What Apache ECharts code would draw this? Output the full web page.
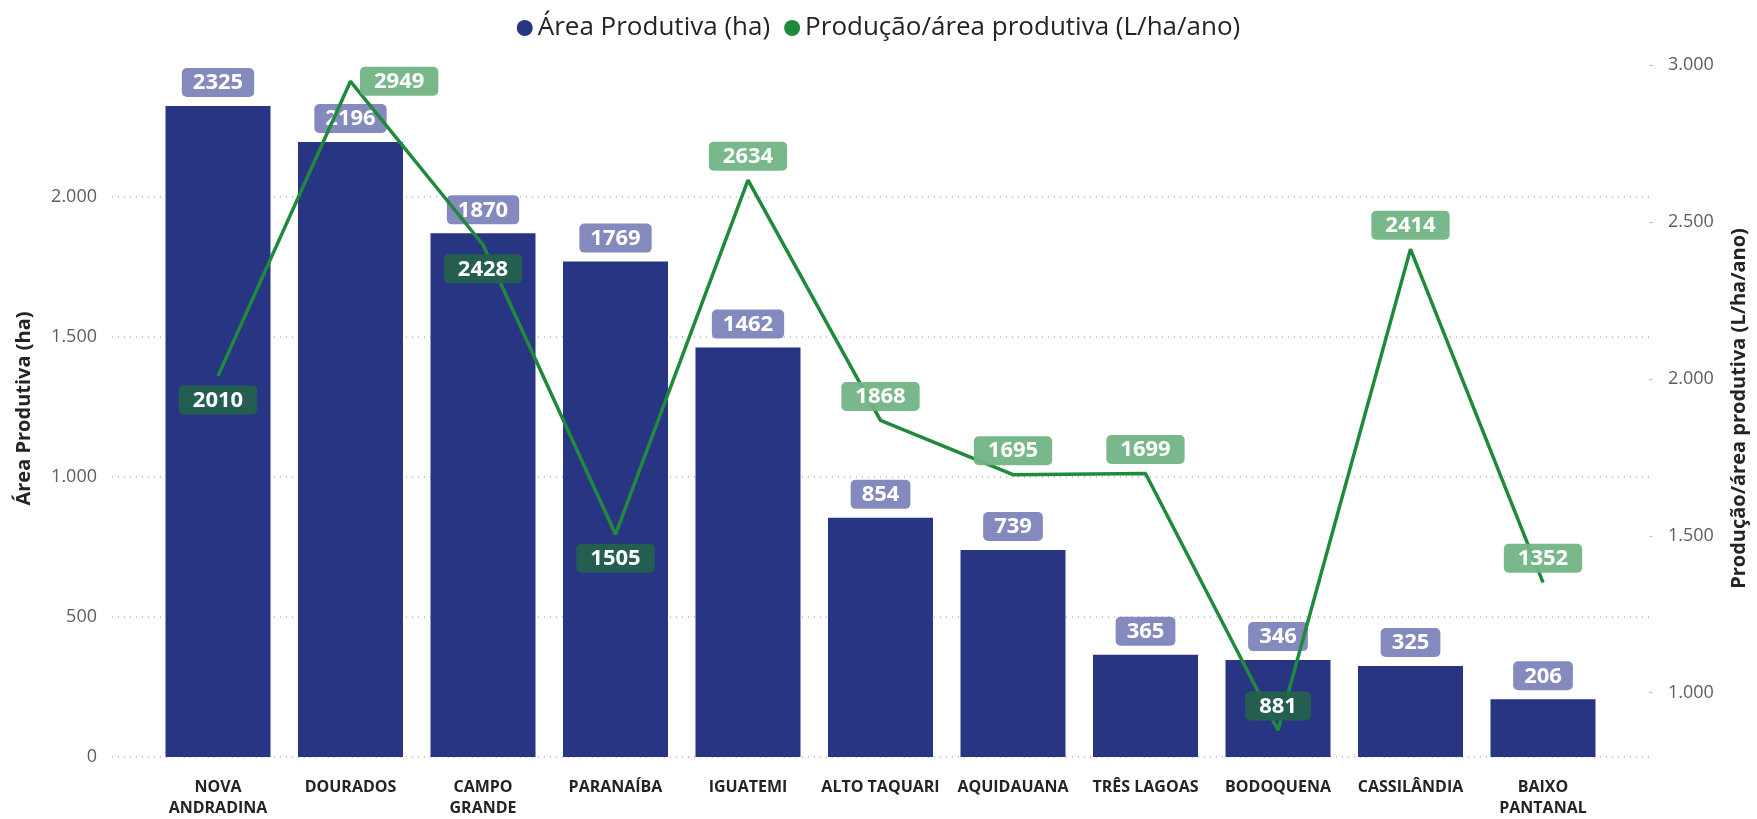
<!DOCTYPE html>
<html>
<head>
<meta charset="utf-8">
<script src="https://cdn.jsdelivr.net/npm/echarts@6.0.0/dist/echarts.min.js"></script>
<style>
  html, body { margin: 0; padding: 0; background: #fff; }
  #chart { width: 1757px; height: 819px; }
</style>
</head>
<body>
<div id="chart"></div>
<script>
const categories = ['NOVA\nANDRADINA', 'DOURADOS', 'CAMPO\nGRANDE', 'PARANAÍBA', 'IGUATEMI', 'ALTO TAQUARI', 'AQUIDAUANA', 'TRÊS LAGOAS', 'BODOQUENA', 'CASSILÂNDIA', 'BAIXO\nPANTANAL']
const areaProdutiva = [2325, 2196, 1870, 1769, 1462, 854, 739, 365, 346, 325, 206]
const producaoPorArea = [2010, 2949, 2428, 1505, 2634, 1868, 1695, 1699, 881, 2414, 1352]
const rightTicks = [1000, 1500, 2000, 2500, 3000]

// label placement for the line, and which labels sit over a bar (dark box)
const lineLabelPos = ['bottom', 'right', 'bottom', 'bottom', 'top', 'top', 'top', 'top', 'top', 'top', 'top']
const lineLabelOnBar = [true, false, true, true, false, false, false, false, true, false, false]

const FONT = '"Open Sans", "Noto Sans", sans-serif'
const BLUE = '#283583'
const GREEN = '#1f8a3c'

// 2000 -> 2.000
const fmt = v => String(v).replace(/\B(?=(\d{3})+(?!\d))/g, '.')

const chart = echarts.init(document.getElementById('chart'))

const option = {
  animation: false,
  textStyle: { fontFamily: FONT },
  legend: {
    top: 10,
    left: 'center',
    icon: 'circle',
    itemWidth: 16,
    itemHeight: 16,
    itemGap: 14,
    textStyle: { fontSize: 26, color: '#252423', fontFamily: FONT },
    data: ['Área Produtiva (ha)', 'Produção/área produtiva (L/ha/ano)'],
  },
  grid: {
    left: 112,
    right: 106,
    top: 60,
    bottom: 59,
  },
  xAxis: {
    type: 'value',
    min: -0.8,
    max: 10.8,
    axisLine: { show: false },
    axisTick: { show: false },
    splitLine: { show: false },
    axisLabel: {
      customValues: categories.map((c, i) => i),
      formatter: v => categories[Math.round(v)] || '',
      margin: 20,
      fontSize: 16,
      fontWeight: 'bold',
      lineHeight: 21,
      color: '#252423',
      fontFamily: FONT,
    },
  },
  yAxis: [
    {
      type: 'value',
      min: 0,
      max: 2489,
      interval: 500,
      name: 'Área Produtiva (ha)',
      nameLocation: 'middle',
      nameGap: 78,
      nameTextStyle: { fontSize: 20, fontWeight: 'bold', color: '#252423', fontFamily: FONT },
      axisLine: { show: false },
      axisTick: { show: false },
      axisLabel: {
        showMaxLabel: false,
        formatter: fmt,
        margin: 15,
        fontSize: 18,
        color: '#605e5c',
        fontFamily: FONT,
      },
      splitLine: {
        show: true,
        showMaxLine: false,
        lineStyle: { color: '#c8c6c4', width: 2, type: [1, 5] },
      },
    },
    {
      type: 'value',
      position: 'right',
      min: 795,
      max: 3017,
      name: 'Produção/área produtiva (L/ha/ano)',
      nameLocation: 'middle',
      nameGap: 80,
      nameTextStyle: { fontSize: 20, fontWeight: 'bold', color: '#252423', fontFamily: FONT },
      axisLine: { show: false },
      axisTick: {
        show: true,
        length: 4,
        customValues: rightTicks,
        lineStyle: { color: '#c8c6c4', width: 1 },
      },
      axisLabel: {
        customValues: rightTicks,
        formatter: fmt,
        margin: 19,
        fontSize: 18,
        color: '#605e5c',
        fontFamily: FONT,
      },
      splitLine: { show: false },
    },
  ],
  series: [
    {
      name: 'Área Produtiva (ha)',
      type: 'bar',
      xAxisIndex: 0,
      yAxisIndex: 0,
      barWidth: 105,
      itemStyle: { color: BLUE },
      data: areaProdutiva.map((v, i) => [i, v]),
      label: {
        show: true,
        position: 'top',
        distance: 9,
        formatter: p => p.value[1],
        color: '#fff',
        fontSize: 22,
        fontWeight: 'bold',
        fontFamily: FONT,
        backgroundColor: 'rgba(116,122,181,0.88)',
        borderRadius: 5,
        padding: [4, 11, 3, 11],
      },
    },
    {
      name: 'Produção/área produtiva (L/ha/ano)',
      type: 'line',
      xAxisIndex: 0,
      yAxisIndex: 1,
      symbol: 'circle',
      symbolSize: 1,
      itemStyle: { color: GREEN },
      lineStyle: { color: GREEN, width: 3.5 },
      z: 3,
      data: producaoPorArea.map((v, i) => ({
        value: [i, v],
        label: {
          position: lineLabelPos[i],
          backgroundColor: lineLabelOnBar[i] ? 'rgba(36,96,80,0.97)' : 'rgba(114,180,133,0.95)',
        },
      })),
      label: {
        show: true,
        distance: 9,
        formatter: p => p.value[1],
        color: '#fff',
        fontSize: 22,
        fontWeight: 'bold',
        fontFamily: FONT,
        borderRadius: 5,
        padding: [4, 14, 3, 14],
      },
    },
  ],
}

chart.setOption(option)
</script>
</body>
</html>
